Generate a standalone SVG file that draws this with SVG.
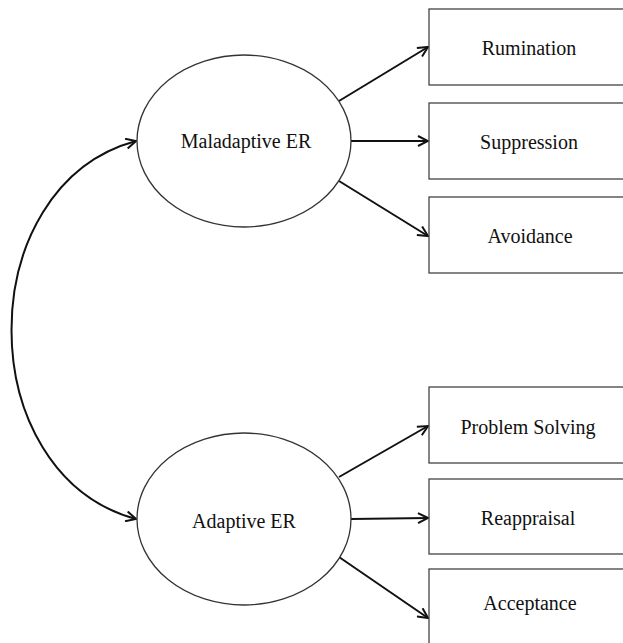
<svg xmlns="http://www.w3.org/2000/svg" width="623" height="643" viewBox="0 0 623 643">
<style>
.box{fill:#fff;stroke:#444;stroke-width:1.3}
.ell{fill:#fff;stroke:#333;stroke-width:1.3}
.lbl{font-family:"Liberation Serif","Times New Roman",serif;font-size:20px;fill:#111;text-anchor:middle}
.edge{fill:none;stroke:#111;stroke-width:2}
</style>
<defs>
<marker id="arr" viewBox="0 0 12 12" refX="11" refY="6" markerWidth="12" markerHeight="12" markerUnits="userSpaceOnUse" orient="auto">
<path d="M1,1 L11,6 L1,11" fill="none" stroke="#111" stroke-width="2"/>
</marker>
<marker id="arrs" viewBox="0 0 12 12" refX="1" refY="6" markerWidth="12" markerHeight="12" markerUnits="userSpaceOnUse" orient="auto">
<path d="M11,1 L1,6 L11,11" fill="none" stroke="#111" stroke-width="2"/>
</marker>
</defs>
<rect width="623" height="643" fill="#fff"/>
<g id="connectors">
<path class="edge" d="M136,141 C-30,186 -30,474 136,519" marker-start="url(#arrs)" marker-end="url(#arr)"/>
<line class="edge" x1="339" y1="101" x2="428" y2="47" marker-end="url(#arr)"/>
<line class="edge" x1="351" y1="141" x2="428" y2="141" marker-end="url(#arr)"/>
<line class="edge" x1="339" y1="181" x2="428" y2="236" marker-end="url(#arr)"/>
<line class="edge" x1="339" y1="477" x2="428" y2="426" marker-end="url(#arr)"/>
<line class="edge" x1="351" y1="519" x2="428" y2="518" marker-end="url(#arr)"/>
<line class="edge" x1="339" y1="557" x2="428" y2="618" marker-end="url(#arr)"/>
</g>
<g id="maladaptive"><ellipse class="ell" cx="244" cy="141" rx="107" ry="86"/><text class="lbl" x="246" y="148">Maladaptive ER</text></g>
<g id="adaptive"><ellipse class="ell" cx="244" cy="519" rx="107" ry="86"/><text class="lbl" x="244" y="528">Adaptive ER</text></g>
<g id="rumination"><rect class="box" x="429" y="9" width="201" height="76"/><text class="lbl" x="529" y="55">Rumination</text></g>
<g id="suppression"><rect class="box" x="429" y="103" width="201" height="76"/><text class="lbl" x="529" y="149">Suppression</text></g>
<g id="avoidance"><rect class="box" x="429" y="197" width="201" height="76"/><text class="lbl" x="530" y="243">Avoidance</text></g>
<g id="problemsolving"><rect class="box" x="429" y="387" width="201" height="76"/><text class="lbl" x="528" y="434">Problem Solving</text></g>
<g id="reappraisal"><rect class="box" x="429" y="479" width="201" height="75"/><text class="lbl" x="528" y="525">Reappraisal</text></g>
<g id="acceptance"><rect class="box" x="429" y="569" width="201" height="80"/><text class="lbl" x="530" y="610">Acceptance</text></g>
</svg>
